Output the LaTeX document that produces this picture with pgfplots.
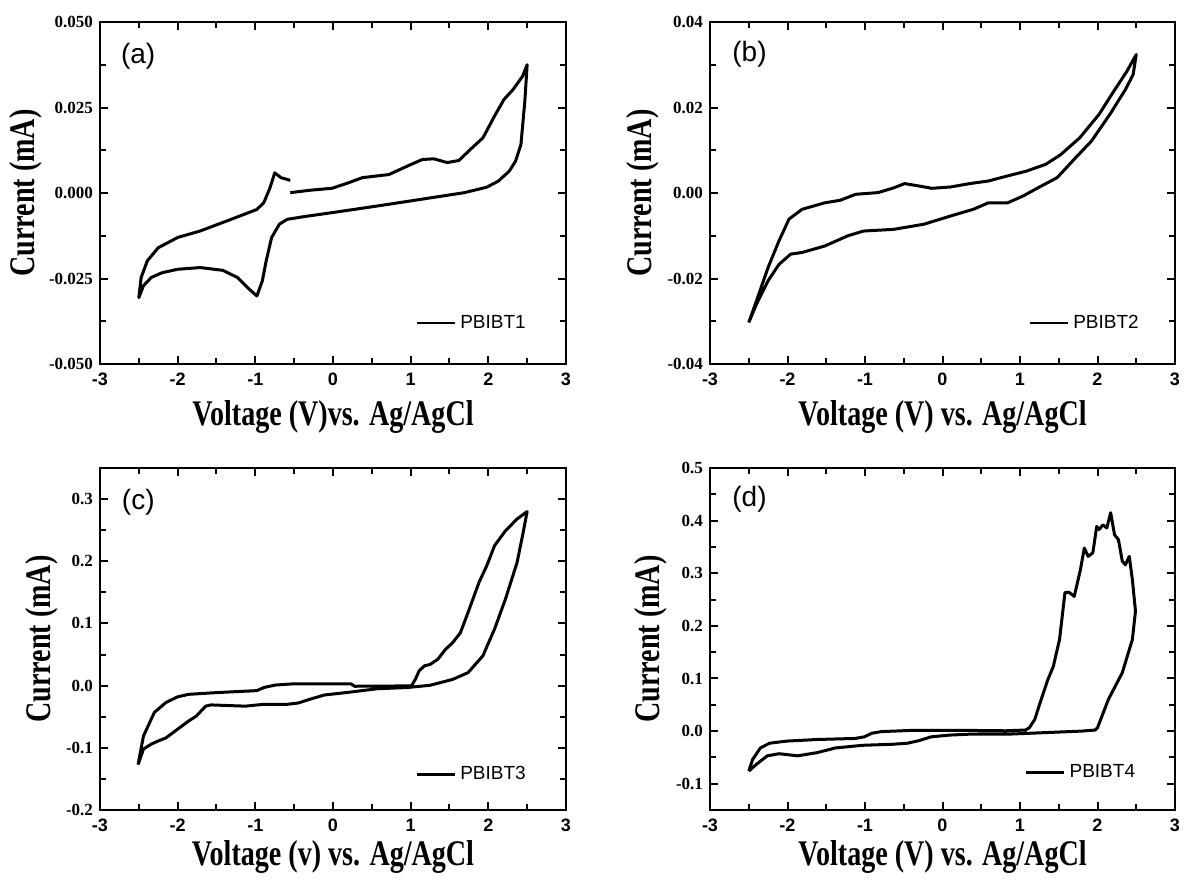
\documentclass[border=0pt]{standalone}
\usepackage{fontspec}
\setmainfont{Liberation Serif}
\newfontfamily\arial{Liberation Sans}
\usepackage{graphicx}
\usepackage{pgfplots}
\pgfplotsset{compat=1.18}
\pgfplotsset{
 cv/.style={
  scale only axis, width=233pt, height=171pt, anchor=north west,
  xmin=-3, xmax=3, xtick={-3,-2,-1,0,1,2,3}, xticklabels={-3,-2,-1,0,1,2,3},
  minor x tick num=1, minor y tick num=1, scaled y ticks=false,
  tick align=inside, tick pos=both,
  major tick length=4pt, minor tick length=2.8pt,
  axis line style={line width=1.1pt},
  major tick style={line width=1pt, black},
  minor tick style={line width=1pt, black},
  xticklabel style={font=\arial\bfseries\fontsize{9pt}{9pt}\selectfont, yshift=-1pt},
  yticklabel style={font=\bfseries\fontsize{8.5pt}{8.5pt}\selectfont},
  every axis x label/.style={at={(axis description cs:0.5,-0.155)}, anchor=center, font=\bfseries\fontsize{18pt}{18pt}\selectfont},
  every axis y label/.style={at={(axis description cs:-0.16,0.5)}, rotate=90, anchor=center, font=\bfseries\fontsize{18pt}{18pt}\selectfont},
  ylabel={\scalebox{0.78}[1]{Current (mA)}},
  legend style={anchor=west, draw=none, fill=none, inner sep=0pt, outer sep=0pt, font=\arial\fontsize{9.5pt}{9.5pt}\selectfont},
  legend image code/.code={\draw[line width=1.4pt] (0pt,0pt) -- (19pt,0pt);},
 },
 cvline/.style={black, line width=1.5pt, line join=round, mark=none},
}
\begin{document}
\begin{tikzpicture}
\useasboundingbox (0,0) rectangle (592.5pt,-440pt);
% (a)
\begin{axis}[cv, at={(50pt,-11pt)}, ymin=-0.05, ymax=0.05,
  ytick={-0.05,-0.025,0,0.025,0.05}, yticklabels={-0.050,-0.025,0.000,0.025,0.050},
  xlabel={\scalebox{0.78}[1]{Voltage (V)vs. Ag/AgCl}},
  legend style={at={(axis description cs:0.677,0.12)}}]
\addplot[cvline] coordinates {(-0.55,0.0001) (-0.30,0.0008) (-0.01,0.0014) (0.20,0.0030) (0.38,0.0045) (0.72,0.0054) (0.96,0.0079) (1.15,0.0098) (1.30,0.0100) (1.47,0.0089) (1.62,0.0095) (1.79,0.0132) (1.93,0.0161) (2.08,0.0225) (2.20,0.0273) (2.32,0.0303) (2.44,0.0341) (2.50,0.0375) (2.47,0.0268) (2.42,0.0142) (2.35,0.0093) (2.27,0.0064) (2.13,0.0035) (1.98,0.0017) (1.69,0.0001) (1.06,-0.0021) (0.57,-0.0038) (0.09,-0.0054) (-0.40,-0.0070) (-0.59,-0.0077) (-0.69,-0.0091) (-0.79,-0.013) (-0.86,-0.0198) (-0.91,-0.0257) (-0.98,-0.0301) (-1.08,-0.0281) (-1.23,-0.0247) (-1.42,-0.0226) (-1.71,-0.0218) (-2.00,-0.0223) (-2.20,-0.0233) (-2.34,-0.0247) (-2.44,-0.0271) (-2.50,-0.0306) (-2.47,-0.0247) (-2.39,-0.0198) (-2.25,-0.0160) (-2.00,-0.0130) (-1.71,-0.0111) (-1.37,-0.0082) (-0.98,-0.0048) (-0.89,-0.0028) (-0.81,0.0016) (-0.75,0.0059) (-0.67,0.0045) (-0.55,0.0037)};
\addlegendentry{PBIBT1}
\node[anchor=west, font=\arial\fontsize{14pt}{14pt}\selectfont] at (axis description cs:0.03,0.90) {(a)};
\end{axis}
% (b)
\begin{axis}[cv, at={(355pt,-11pt)}, width=232.5pt, ymin=-0.04, ymax=0.04,
  ytick={-0.04,-0.02,0,0.02,0.04}, yticklabels={-0.04,-0.02,0.00,0.02,0.04},
  every axis y label/.append style={at={(axis description cs:-0.144,0.5)}},
  xlabel={\scalebox{0.78}[1]{Voltage (V) vs. Ag/AgCl}},
  legend style={at={(axis description cs:0.685,0.12)}}]
\addplot[cvline] coordinates {(-2.50,-0.0303) (-2.40,-0.0252) (-2.25,-0.0174) (-2.11,-0.0112) (-1.98,-0.0061) (-1.81,-0.0038) (-1.52,-0.0023) (-1.32,-0.0017) (-1.12,-0.0003) (-0.83,0.0001) (-0.63,0.0012) (-0.49,0.0022) (-0.29,0.0016) (-0.14,0.0011) (0.10,0.0014) (0.35,0.0022) (0.59,0.0028) (0.84,0.0040) (1.08,0.0051) (1.33,0.0067) (1.52,0.0089) (1.77,0.0129) (2.02,0.0184) (2.21,0.0238) (2.38,0.0285) (2.50,0.0324) (2.46,0.0277) (2.36,0.0242) (2.16,0.0184) (1.92,0.0121) (1.72,0.0083) (1.48,0.0036) (1.23,0.0012) (1.04,-0.0007) (0.84,-0.0023) (0.59,-0.0023) (0.40,-0.0038) (0.10,-0.0054) (-0.24,-0.0073) (-0.63,-0.0085) (-1.02,-0.0089) (-1.22,-0.0100) (-1.52,-0.0124) (-1.81,-0.0139) (-1.96,-0.0143) (-2.11,-0.0167) (-2.25,-0.0205) (-2.40,-0.0260) (-2.50,-0.0303)};
\addlegendentry{PBIBT2}
\node[anchor=west, font=\arial\fontsize{14pt}{14pt}\selectfont] at (axis description cs:0.033,0.905) {(b)};
\end{axis}
% (c)
\begin{axis}[cv, at={(50pt,-234pt)}, ymin=-0.2, ymax=0.35,
  ytick={-0.2,-0.1,0,0.1,0.2,0.3}, yticklabels={-0.2,-0.1,0.0,0.1,0.2,0.3},
  every axis y label/.append style={at={(axis description cs:-0.125,0.5)}},
  every axis x label/.append style={at={(axis description cs:0.5,-0.137)}},
  xlabel={\scalebox{0.78}[1]{Voltage (v) vs. Ag/AgCl}},
  legend style={at={(axis description cs:0.677,0.104)}}]
\addplot[cvline] coordinates {(-2.51,-0.127) (-2.44,-0.081) (-2.30,-0.043) (-2.15,-0.027) (-2.00,-0.018) (-1.86,-0.014) (-1.47,-0.011) (-0.98,-0.008) (-0.89,-0.003) (-0.74,0.001) (-0.50,0.003) (0.23,0.003) (0.28,-0.001) (1.01,-0.0004) (1.06,0.010) (1.11,0.024) (1.18,0.032) (1.25,0.034) (1.35,0.0425) (1.45,0.0586) (1.54,0.069) (1.64,0.085) (1.74,0.118) (1.88,0.166) (1.98,0.193) (2.08,0.225) (2.22,0.249) (2.37,0.268) (2.50,0.280) (2.44,0.241) (2.37,0.198) (2.22,0.139) (2.08,0.091) (1.93,0.048) (1.74,0.021) (1.54,0.010) (1.25,0.0006) (0.96,-0.003) (0.57,-0.005) (0.18,-0.011) (-0.11,-0.015) (-0.30,-0.022) (-0.45,-0.028) (-0.59,-0.030) (-0.89,-0.030) (-1.13,-0.033) (-1.57,-0.031) (-1.64,-0.033) (-1.76,-0.049) (-1.86,-0.057) (-2.00,-0.070) (-2.15,-0.084) (-2.25,-0.089) (-2.34,-0.094) (-2.44,-0.102) (-2.51,-0.127)};
\addlegendentry{PBIBT3}
\node[anchor=west, font=\arial\fontsize{14pt}{14pt}\selectfont] at (axis description cs:0.032,0.90) {(c)};
\end{axis}
% (d)
\begin{axis}[cv, at={(355pt,-234pt)}, width=232.5pt, ymin=-0.15, ymax=0.5,
  ytick={-0.1,0,0.1,0.2,0.3,0.4,0.5}, yticklabels={-0.1,0.0,0.1,0.2,0.3,0.4,0.5},
  every axis y label/.append style={at={(axis description cs:-0.127,0.5)}},
  every axis x label/.append style={at={(axis description cs:0.5,-0.137)}},
  xlabel={\scalebox{0.78}[1]{Voltage (V) vs. Ag/AgCl}},
  legend style={at={(axis description cs:0.677,0.109)}}]
\addplot[cvline] coordinates {(-2.50,-0.076) (-2.45,-0.054) (-2.35,-0.032) (-2.23,-0.023) (-2.01,-0.019) (-1.62,-0.016) (-1.13,-0.014) (-1.01,-0.011) (-0.91,-0.004) (-0.79,-0.001) (-0.40,0.0013) (0.33,0.0013) (0.82,0.0006) (1.07,0.002) (1.12,0.0063) (1.19,0.022) (1.26,0.054) (1.36,0.098) (1.43,0.123) (1.51,0.174) (1.58,0.263) (1.63,0.264) (1.70,0.256) (1.78,0.307) (1.83,0.348) (1.88,0.332) (1.94,0.339) (1.99,0.389) (2.02,0.383) (2.07,0.392) (2.12,0.386) (2.17,0.415) (2.22,0.373) (2.27,0.364) (2.32,0.323) (2.36,0.316) (2.41,0.332) (2.45,0.288) (2.49,0.228) (2.45,0.174) (2.32,0.111) (2.14,0.060) (2.00,0.0063) (1.97,0.002) (1.80,0.000) (1.31,-0.003) (0.82,-0.006) (0.33,-0.006) (0.09,-0.0076) (-0.15,-0.011) (-0.30,-0.018) (-0.45,-0.023) (-0.64,-0.025) (-1.03,-0.027) (-1.38,-0.032) (-1.62,-0.041) (-1.87,-0.047) (-2.11,-0.043) (-2.26,-0.047) (-2.40,-0.063) (-2.50,-0.076)};
\addlegendentry{PBIBT4}
\node[anchor=west, font=\arial\fontsize{14pt}{14pt}\selectfont] at (axis description cs:0.033,0.91) {(d)};
\end{axis}
\end{tikzpicture}
\end{document}
